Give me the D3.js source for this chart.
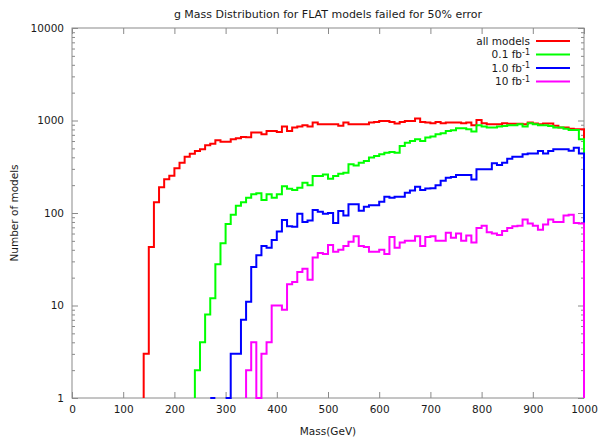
<!DOCTYPE html>
<html>
<head>
<meta charset="utf-8">
<script src="https://cdn.jsdelivr.net/npm/d3@7/dist/d3.min.js"></script>
<style>
  html, body { margin: 0; padding: 0; background: #fff; }
  svg { display: block; font-family: "DejaVu Sans", sans-serif; }
</style>
</head>
<body>
<svg id="chart" width="599" height="447"></svg>
<script>
// Histogram of g mass (10 GeV bins); each series lists counts starting at its first filled bin.
const binWidth = 10;
const xTicks = [0, 100, 200, 300, 400, 500, 600, 700, 800, 900, 1000];
const yTicks = [1, 10, 100, 1000, 10000];

const allStart = 140;
const allCounts = [
  3, 43, 131, 190, 231, 252, 304, 350, 405, 437,
  467, 488, 539, 560, 611, 591, 591, 626, 642, 664,
  660, 740, 740, 710, 771, 771, 752, 860, 771, 838,
  860, 888, 860, 950, 910, 910, 910, 910, 875, 950,
  910, 910, 910, 910, 950, 965, 989, 989, 965, 930,
  965, 989, 989, 1050, 965, 950, 935, 965, 935, 950,
  950, 950, 935, 950, 888, 1014, 935, 910, 910, 910,
  935, 920, 920, 920, 910, 950, 930, 910, 930, 930,
  875, 838, 838, 815, 804, 804
];

const lumi01Start = 240;
const lumi01Counts = [
  2, 4, 8, 12, 28, 47, 76, 96, 120, 131,
  146, 159, 163, 138, 159, 146, 159, 195, 183, 177,
  188, 212, 199, 251, 251, 261, 235, 251, 266, 273,
  336, 327, 350, 365, 397, 413, 431, 449, 457, 449,
  530, 576, 600, 626, 600, 653, 670, 710, 727, 771,
  784, 824, 824, 804, 759, 888, 860, 838, 838, 860,
  873, 888, 888, 910, 860, 935, 910, 888, 888, 873,
  838, 838, 815, 790, 790, 626
];

const lumi1Start = 270;
const lumi1Counts = [
  1, null, null, 1, 3, 3, 7, 11, 26, 35,
  44, 42, 51, 63, 84, 72, 71, 98, 80, 83,
  108, 103, 98, 100, 78, 105, 94, 124, 124, 106,
  117, 121, 121, 132, 150, 146, 150, 150, 166, 175,
  192, 177, 184, 185, 200, 223, 241, 245, 257, 257,
  257, 230, 297, 297, 297, 344, 330, 350, 385, 406,
  406, 431, 440, 440, 467, 440, 467, 488, 488, 488,
  470, 509, 440
];

const lumi10Start = 340;
const lumi10Counts = [
  2, 4, 1, 3, 4, 10, 10, 9, 17, 18,
  23, 25, 19, 33, 37, 36, 45, 38, 40, 44,
  49, 56, 44, 43, 38, 38, 40, 36, 55, 42,
  48, 50, 50, 56, 44, 55, 56, 50, 50, 61,
  54, 60, 50, 57, 48, 69, 73, 62, 60, 58,
  64, 69, 72, 73, 85, 77, 73, 66, 75, 85,
  80, 80, 94, 96, 78, 77
];

const series = [
  { name: "all models", sup: null, color: "#ff0000", start: allStart, counts: allCounts },
  { name: "0.1 fb", sup: "-1", color: "#00ff00", start: lumi01Start, counts: lumi01Counts },
  { name: "1.0 fb", sup: "-1", color: "#0000ff", start: lumi1Start, counts: lumi1Counts },
  { name: "10 fb", sup: "-1", color: "#ff00ff", start: lumi10Start, counts: lumi10Counts }
];

const W = 599, H = 447;
const margin = { left: 72, right: 15, top: 28, bottom: 49 };
const plotW = W - margin.left - margin.right;
const plotH = H - margin.top - margin.bottom;

const svg = d3.select("#chart");
const g = svg.append("g").attr("transform", `translate(${margin.left},${margin.top})`);

const x = d3.scaleLinear().domain([0, 1000]).range([0, plotW]);
const y = d3.scaleLog().domain([1, 10000]).range([plotH, 0]);

const axisColor = "#8a8a8a";
const textColor = "#1a1a1a";
const fontSize = 10.5;

// minor ticks on the log axis: 2..9 within each decade
const minorY = [];
yTicks.slice(0, -1).forEach(d => { for (let k = 2; k <= 9; k++) minorY.push(d * k); });

function styleAxis(sel, showLabels) {
  sel.select(".domain").remove();
  sel.selectAll(".tick line").attr("stroke", axisColor).attr("stroke-width", 1);
  if (showLabels) {
    sel.selectAll(".tick text").attr("fill", textColor).style("font-size", fontSize + "px")
      .style("font-family", "DejaVu Sans, sans-serif");
  } else {
    sel.selectAll(".tick text").remove();
  }
}

// bottom / top axes
g.append("g").attr("transform", `translate(0,${plotH})`)
  .call(d3.axisBottom(x).tickValues(xTicks).tickFormat(d3.format("d")).tickSizeInner(-6).tickSizeOuter(0).tickPadding(8))
  .call(s => styleAxis(s, true));
g.append("g")
  .call(d3.axisTop(x).tickValues(xTicks).tickSizeInner(-6).tickSizeOuter(0))
  .call(s => styleAxis(s, false));

// left / right axes, major and minor
g.append("g")
  .call(d3.axisLeft(y).tickValues(yTicks).tickFormat(d3.format("d")).tickSizeInner(-6).tickSizeOuter(0).tickPadding(8))
  .call(s => styleAxis(s, true));
g.append("g")
  .call(d3.axisLeft(y).tickValues(minorY).tickSizeInner(-3).tickSizeOuter(0))
  .call(s => styleAxis(s, false));
g.append("g").attr("transform", `translate(${plotW},0)`)
  .call(d3.axisRight(y).tickValues(yTicks).tickSizeInner(-6).tickSizeOuter(0))
  .call(s => styleAxis(s, false));
g.append("g").attr("transform", `translate(${plotW},0)`)
  .call(d3.axisRight(y).tickValues(minorY).tickSizeInner(-3).tickSizeOuter(0))
  .call(s => styleAxis(s, false));

// frame
g.append("rect").attr("x", 0).attr("y", 0).attr("width", plotW).attr("height", plotH)
  .attr("fill", "none").attr("stroke", axisColor).attr("stroke-width", 1);

// histogram steps: each contiguous run rises from the floor and drops back at its end
const line = d3.line().x(d => x(d[0])).y(d => y(d[1]));
series.forEach(s => {
  const runs = [];
  let cur = null;
  s.counts.forEach((v, i) => {
    const lo = s.start + i * binWidth;
    if (v == null) { cur = null; return; }
    if (!cur) { cur = []; runs.push(cur); }
    cur.push([lo, v]);
  });
  runs.forEach(run => {
    const pts = [[run[0][0], 1]];
    run.forEach(([lo, v]) => { pts.push([lo, v]); pts.push([lo + binWidth, v]); });
    pts.push([run[run.length - 1][0] + binWidth, 1]);
    g.append("path").attr("d", line(pts)).attr("fill", "none")
      .attr("stroke", s.color).attr("stroke-width", 2).attr("stroke-linejoin", "miter");
  });
});

// legend, top right inside the frame
const legendTextRight = 530 - margin.left;
const legendLineX0 = 536 - margin.left, legendLineX1 = 570 - margin.left;
const legendRows = [41, 54.5, 68, 81.5];
series.forEach((s, i) => {
  const ly = legendRows[i] - margin.top;
  const t = g.append("text").attr("x", legendTextRight).attr("y", ly).attr("dy", "0.35em")
    .attr("text-anchor", "end").attr("fill", textColor).style("font-size", fontSize + "px");
  t.append("tspan").text(s.name);
  if (s.sup) {
    t.append("tspan").attr("dy", "-0.45em").style("font-size", "8px").text(s.sup);
  }
  g.append("line").attr("x1", legendLineX0).attr("x2", legendLineX1).attr("y1", ly).attr("y2", ly)
    .attr("stroke", s.color).attr("stroke-width", 2);
});

// title and axis labels
svg.append("text").attr("x", margin.left + plotW / 2).attr("y", 14).attr("dy", "0.35em")
  .attr("text-anchor", "middle").attr("fill", textColor).style("font-size", "11px")
  .text("g Mass Distribution for FLAT models failed for 50% error");
svg.append("text").attr("x", margin.left + plotW / 2).attr("y", 431).attr("dy", "0.35em")
  .attr("text-anchor", "middle").attr("fill", textColor).style("font-size", fontSize + "px")
  .text("Mass(GeV)");
svg.append("text").attr("transform", `translate(14,${margin.top + plotH / 2}) rotate(-90)`)
  .attr("dy", "0.35em").attr("text-anchor", "middle").attr("fill", textColor)
  .style("font-size", fontSize + "px").text("Number of models");
</script>
</body>
</html>
